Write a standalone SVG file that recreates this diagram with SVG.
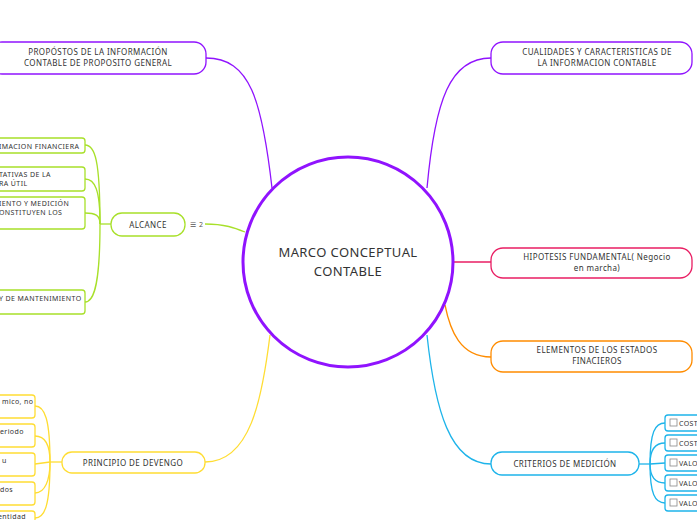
<svg xmlns="http://www.w3.org/2000/svg" width="697" height="520" viewBox="0 0 697 520">
<style>
text{font-family:"Noto Sans","DejaVu Sans",sans-serif;font-size:8px;fill:#333;letter-spacing:0.4px}
.c{text-anchor:middle}
.n{fill:#fff;stroke-width:1.3}
.l{fill:none;stroke-width:1.3}
.cb{fill:#fff;stroke:#888;stroke-width:0.8}
</style>
<rect width="697" height="520" fill="#fff"/>
<g id="connectors">
<path class="l" stroke="#9013fe" stroke-width="1.5" d="M206,58 C250,58 262,100 272,188"/>
<path class="l" stroke="#9013fe" stroke-width="1.5" d="M491,58 C450,58 435,100 427,188"/>
<path class="l" stroke="#e91e63" stroke-width="1.5" d="M491,262 L453,262"/>
<path class="l" stroke="#ff8c00" stroke-width="1.5" d="M491,357 C460,357 450,330 445,305"/>
<path class="l" stroke="#1eb4ea" stroke-width="1.5" d="M491,464 C450,464 435,410 427,335"/>
<path class="l" stroke="#a8e02a" stroke-width="1.5" d="M205,224 C225,224 235,228 245,232"/>
<path class="l" stroke="#ffdd33" stroke-width="1.5" d="M205,462 C250,462 262,400 270,335"/>
<g stroke="#a8e02a" class="l">
<path d="M111,224 L100,224"/>
<path d="M100,224 C100,160 95,145 85,145"/>
<path d="M100,224 C100,190 95,179 85,179"/>
<path d="M100,224 C100,215 95,213 85,213"/>
<path d="M100,224 C100,280 95,302 85,302"/>
</g>
<g stroke="#ffdd33" class="l">
<path d="M62,462 L50,462"/>
<path d="M50,462 C50,420 45,406 35,406"/>
<path d="M50,462 C50,445 45,436 35,436"/>
<path d="M50,462 L35,464"/>
<path d="M50,462 C50,480 45,493 35,493"/>
<path d="M50,462 C50,505 45,518 35,518"/>
</g>
<g stroke="#1eb4ea" class="l">
<path d="M639,464 L650,464"/>
<path d="M650,464 C650,432 655,423 665,423"/>
<path d="M650,464 C650,450 655,443 665,443"/>
<path d="M650,464 L665,463"/>
<path d="M650,464 C650,476 655,483 665,483"/>
<path d="M650,464 C650,494 655,503 665,503"/>
</g>
</g>
<g id="center"><circle cx="348" cy="262" r="105" fill="#fff" stroke="#9013fe" stroke-width="3"/>
<text class="c" x="348" y="257" style="font-size:13px">MARCO CONCEPTUAL</text>
<text class="c" x="348" y="276" style="font-size:13px">CONTABLE</text></g>
<g id="propositos"><rect class="n" stroke="#9013fe" x="-10" y="42" width="216" height="32" rx="12"/>
<text class="c" x="98" y="55">PROPÓSTOS DE LA INFORMACIÓN</text><text class="c" x="98" y="66">CONTABLE DE PROPOSITO GENERAL</text></g>
<g id="cualidades"><rect class="n" stroke="#9013fe" x="491" y="42" width="201" height="32" rx="12"/>
<text class="c" x="597" y="55">CUALIDADES Y CARACTERISTICAS DE</text><text class="c" x="597" y="66">LA INFORMACION CONTABLE</text></g>
<g id="hipotesis"><rect class="n" stroke="#e91e63" x="491" y="248" width="201" height="30" rx="12"/>
<text class="c" x="597" y="260">HIPOTESIS FUNDAMENTAL( Negocio</text><text class="c" x="597" y="271">en marcha)</text></g>
<g id="elementos"><rect class="n" stroke="#ff8c00" x="491" y="341" width="201" height="31" rx="12"/>
<text class="c" x="597" y="353">ELEMENTOS DE LOS ESTADOS</text><text class="c" x="597" y="364">FINACIEROS</text></g>
<g id="criterios"><rect class="n" stroke="#1eb4ea" x="491" y="452" width="148" height="23" rx="11"/>
<text class="c" x="565" y="467">CRITERIOS DE MEDICIÓN</text></g>
<g id="alcance"><rect class="n" stroke="#a8e02a" x="111" y="213" width="74" height="23" rx="11"/>
<text class="c" x="148" y="228">ALCANCE</text>
<text x="190" y="227" style="font-size:7px;fill:#555">☰ 2</text></g>
<g id="devengo"><rect class="n" stroke="#ffdd33" x="62" y="452" width="143" height="21" rx="10"/>
<text class="c" x="133" y="466">PRINCIPIO  DE DEVENGO</text></g>
<g id="alc1"><rect class="n" stroke="#a8e02a" x="-10" y="138" width="95" height="15" rx="3"/><text x="-1" y="149" style="font-size:7px">IMACION FINANCIERA</text></g>
<g id="alc2"><rect class="n" stroke="#a8e02a" x="-10" y="167" width="95" height="24" rx="3"/><text x="-1" y="177" style="font-size:7px">TATIVAS DE LA</text><text x="-1" y="186" style="font-size:7px">RA ÚTIL</text></g>
<g id="alc3"><rect class="n" stroke="#a8e02a" x="-10" y="197" width="95" height="32" rx="3"/><text x="-1" y="206" style="font-size:7px">IENTO Y MEDICIÓN</text><text x="-1" y="215" style="font-size:7px">ONSTITUYEN LOS</text></g>
<g id="alc4"><rect class="n" stroke="#a8e02a" x="-10" y="290" width="95" height="24" rx="3"/><text x="-1" y="301" style="font-size:7px">Y DE MANTENIMIENTO</text></g>
<g id="dev1"><rect class="n" stroke="#ffdd33" x="-10" y="395" width="45" height="23" rx="3"/><text x="2" y="404" style="font-size:7px">mico, no</text></g>
<g id="dev2"><rect class="n" stroke="#ffdd33" x="-10" y="424" width="45" height="23" rx="3"/><text x="0" y="434" style="font-size:7px">eriodo</text></g>
<g id="dev3"><rect class="n" stroke="#ffdd33" x="-10" y="453" width="45" height="23" rx="3"/><text x="2" y="463" style="font-size:7px">u</text></g>
<g id="dev4"><rect class="n" stroke="#ffdd33" x="-10" y="482" width="45" height="23" rx="3"/><text x="0" y="492" style="font-size:7px">dos</text></g>
<g id="dev5"><rect class="n" stroke="#ffdd33" x="-10" y="511" width="45" height="23" rx="3"/><text x="-2" y="519" style="font-size:7px">entidad</text></g>
<g id="cri1"><rect class="n" stroke="#1eb4ea" x="665" y="415" width="40" height="16" rx="3"/><rect class="cb" x="670" y="419" width="7" height="7"/><text x="679" y="426" style="font-size:7px">COST</text></g>
<g id="cri2"><rect class="n" stroke="#1eb4ea" x="665" y="435" width="40" height="16" rx="3"/><rect class="cb" x="670" y="439" width="7" height="7"/><text x="679" y="446" style="font-size:7px">COST</text></g>
<g id="cri3"><rect class="n" stroke="#1eb4ea" x="665" y="455" width="40" height="16" rx="3"/><rect class="cb" x="670" y="459" width="7" height="7"/><text x="679" y="466" style="font-size:7px">VALO</text></g>
<g id="cri4"><rect class="n" stroke="#1eb4ea" x="665" y="475" width="40" height="16" rx="3"/><rect class="cb" x="670" y="479" width="7" height="7"/><text x="679" y="486" style="font-size:7px">VALO</text></g>
<g id="cri5"><rect class="n" stroke="#1eb4ea" x="665" y="495" width="40" height="16" rx="3"/><rect class="cb" x="670" y="499" width="7" height="7"/><text x="679" y="506" style="font-size:7px">VALO</text></g>
</svg>
